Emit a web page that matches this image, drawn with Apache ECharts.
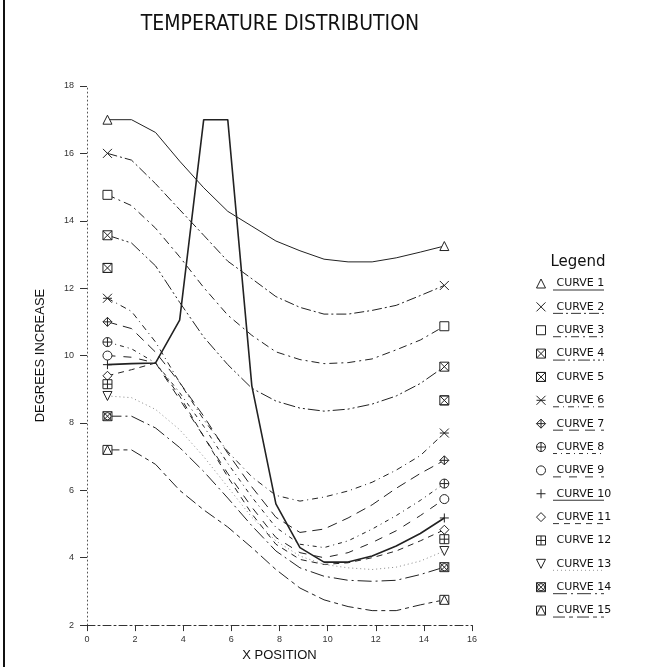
<!DOCTYPE html>
<html>
<head>
<meta charset="utf-8">
<script src="https://cdn.jsdelivr.net/npm/echarts@6/dist/echarts.min.js"></script>
<style>
  html, body { margin: 0; padding: 0; background: #fff; }
  #chart { width: 647px; height: 667px; }
</style>
</head>
<body>
<div id="chart"></div>
<script>
// x positions where the curves were sampled, and the two end positions
const xPos = [0.85, 1.85, 2.85, 3.85, 4.85, 5.85, 6.85, 7.85, 8.85, 9.85, 10.85, 11.85, 12.85, 13.85, 14.85];
const xEnds = [0.85, 14.85];

const curve1 = [17.0, 17.0, 16.62, 15.77, 14.98, 14.28, 13.84, 13.4, 13.11, 12.86, 12.78, 12.78, 12.9, 13.07, 13.25];
const curve2 = [16.0, 15.8, 15.1, 14.33, 13.57, 12.8, 12.28, 11.75, 11.43, 11.23, 11.23, 11.34, 11.49, 11.78, 12.08];
const curve3 = [14.77, 14.45, 13.78, 12.93, 12.02, 11.2, 10.6, 10.11, 9.88, 9.76, 9.79, 9.9, 10.17, 10.46, 10.87];
const curve4 = [13.57, 13.34, 12.66, 11.58, 10.55, 9.73, 9.03, 8.65, 8.44, 8.35, 8.41, 8.56, 8.8, 9.17, 9.67];
const curve5 = [12.6, 8.67];
const curve6 = [11.7, 11.31, 10.4, 9.2, 8.1, 7.15, 6.4, 5.85, 5.68, 5.8, 5.98, 6.24, 6.6, 7.03, 7.7];
const curve7 = [11.0, 10.8, 10.1, 9.2, 8.2, 7.1, 6.1, 5.2, 4.75, 4.85, 5.18, 5.57, 6.06, 6.5, 6.89];
const curve8 = [10.4, 10.2, 9.78, 8.9, 7.9, 6.8, 5.8, 4.9, 4.4, 4.3, 4.5, 4.85, 5.25, 5.7, 6.2];
const curve9 = [10.0, 9.95, 9.78, 8.7, 7.6, 6.5, 5.5, 4.6, 4.15, 4.0, 4.15, 4.45, 4.8, 5.25, 5.74];
const curve10 = [9.73, 9.76, 9.78, 11.05, 17.0, 17.0, 9.1, 5.6, 4.3, 3.87, 3.87, 4.05, 4.35, 4.72, 5.18];
const curve11 = [9.4, 9.58, 9.78, 8.8, 7.6, 6.4, 5.3, 4.4, 3.95, 3.8, 3.85, 4.0, 4.2, 4.5, 4.83];
const curve12 = [9.15, 4.55];
const curve13 = [8.8, 8.75, 8.4, 7.8, 7.0, 6.1, 5.2, 4.5, 4.05, 3.8, 3.7, 3.65, 3.72, 3.9, 4.2];
const curve14 = [8.2, 8.2, 7.85, 7.27, 6.56, 5.77, 4.95, 4.2, 3.7, 3.45, 3.33, 3.3, 3.33, 3.5, 3.72];
const curve15 = [7.2, 7.2, 6.77, 6.0, 5.42, 4.91, 4.3, 3.65, 3.1, 2.75, 2.55, 2.43, 2.43, 2.6, 2.75];

const curveNames = ['CURVE 1', 'CURVE 2', 'CURVE 3', 'CURVE 4', 'CURVE 5', 'CURVE 6', 'CURVE 7', 'CURVE 8',
  'CURVE 9', 'CURVE 10', 'CURVE 11', 'CURVE 12', 'CURVE 13', 'CURVE 14', 'CURVE 15'];
const curveValues = [curve1, curve2, curve3, curve4, curve5, curve6, curve7, curve8,
  curve9, curve10, curve11, curve12, curve13, curve14, curve15];
const xTicks = [0, 16, 2];
const yTicks = [2, 18, 2];

// plotter style marker for every curve
const symbols = [
  'triangle',
  'path://M0,0L10,10M10,0L0,10',
  'rect',
  'path://M0,0H10V10H0ZM0,0L10,10M10,0L0,10',
  'path://M0,0H10V10H0ZM0,0L10,10H0L10,0Z',
  'path://M0,0L10,10M10,0L0,10M0,5H10',
  'path://M5,0L10,5L5,10L0,5ZM5,0V10M0,5H10',
  'path://M0,5A5,5 0 1 1 10,5A5,5 0 1 1 0,5ZM5,0V10M0,5H10',
  'circle',
  'path://M5,0V10M0,5H10',
  'diamond',
  'path://M0,0H10V10H0ZM5,0V10M0,5H10',
  'path://M0,0H10L5,10Z',
  'path://M0,0H10V10H0ZM0,0L10,10M10,0L0,10M5,1A4,4 0 1 1 5,9A4,4 0 1 1 5,1Z',
  'path://M0,0H10V10H0ZM0,10L5,0L10,10'
];
// dash pattern of each curve (null = no line drawn)
const dashes = [
  'solid', [10, 3, 2, 3], [8, 4, 2, 4], [12, 3, 2, 3, 2, 3], null, [6, 4, 1, 4], [10, 6], [4, 4, 1, 4],
  [8, 8], 'solid', [6, 5], null, [1, 3], [14, 4, 2, 4], [12, 4, 4, 4]
];

var chart = echarts.init(document.getElementById('chart'));

var series = curveNames.map(function (name, i) {
  var vals = curveValues[i];
  var xs = vals.length === 2 ? xEnds : xPos;
  var last = vals.length - 1;
  return {
    name: name,
    type: 'line',
    data: vals.map(function (v, k) { return [xs[k], v]; }),
    symbol: symbols[i],
    symbolSize: function (val, p) { return (p.dataIndex === 0 || p.dataIndex === last) ? 9 : 0; },
    showAllSymbol: true,
    smooth: false,
    itemStyle: { color: '#fff', borderColor: '#222', borderWidth: 1 },
    lineStyle: {
      color: i === 12 ? '#888' : '#222',
      width: dashes[i] === null ? 0 : (i === 9 ? 1.6 : 1),
      opacity: dashes[i] === null ? 0 : 1,
      type: dashes[i] || 'solid'
    },
    emphasis: { disabled: true },
    z: i === 9 ? 5 : 2
  };
});

// underline below each legend entry in the curve's own line style
var underlines = [];
curveNames.forEach(function (n, i) {
  if (dashes[i] === null) return;
  underlines.push({
    type: 'line',
    shape: { x1: 553, y1: 290 + i * 23.36, x2: 604, y2: 290 + i * 23.36 },
    style: { stroke: i === 12 ? '#999' : '#333', lineWidth: 1, lineDash: dashes[i] === 'solid' ? null : dashes[i] }
  });
});

var option = {
  backgroundColor: '#fff',
  animation: false,
  title: [
    {
      text: 'TEMPERATURE DISTRIBUTION',
      left: 275, top: 9, textAlign: 'center',
      textStyle: { fontFamily: 'Liberation Sans Narrow, DejaVu Sans Condensed, Liberation Sans', fontSize: 21, fontWeight: 'normal', color: '#111' }
    },
    {
      text: 'Legend',
      left: 573, top: 250, textAlign: 'center',
      textStyle: { fontFamily: 'DejaVu Sans', fontSize: 15, fontWeight: 'normal', color: '#111' }
    }
  ],
  legend: {
    orient: 'vertical',
    left: 531, top: 273,
    itemWidth: 9, itemHeight: 9, itemGap: 12.36,
    data: curveNames.map(function (n, i) { return { name: n, icon: symbols[i] }; }),
    itemStyle: { color: '#fff', borderColor: '#222', borderWidth: 1 },
    textStyle: { fontFamily: 'DejaVu Sans', fontSize: 11, color: '#111', padding: [0, 0, 0, 6] },
    selectedMode: false
  },
  grid: { left: 87, right: 175, top: 86, bottom: 35, containLabel: false },
  xAxis: {
    type: 'value', min: xTicks[0], max: xTicks[1], interval: xTicks[2],
    name: 'X POSITION', nameLocation: 'middle', nameGap: 20,
    nameTextStyle: { fontFamily: 'Liberation Sans', fontSize: 13, color: '#111' },
    axisLine: { onZero: false, lineStyle: { color: '#333', width: 1, type: [8, 3, 2, 3] } },
    axisTick: { length: 6, lineStyle: { color: '#333' } },
    axisLabel: { fontFamily: 'Liberation Sans', fontSize: 9, color: '#333', margin: 10 },
    splitLine: { show: false }
  },
  yAxis: {
    type: 'value', min: yTicks[0], max: yTicks[1], interval: yTicks[2],
    name: 'DEGREES INCREASE', nameLocation: 'middle', nameGap: 40, nameRotate: 90,
    nameTextStyle: { fontFamily: 'Liberation Sans', fontSize: 13, color: '#111' },
    axisLine: { show: true, onZero: false, lineStyle: { color: '#555', width: 1, type: [1, 3] } },
    axisTick: { show: true, length: 7, lineStyle: { color: '#333' } },
    axisLabel: { fontFamily: 'Liberation Sans', fontSize: 9, color: '#333', margin: 13 },
    splitLine: { show: false }
  },
  graphic: [
    { type: 'line', shape: { x1: 4, y1: 0, x2: 4, y2: 667 }, style: { stroke: '#111', lineWidth: 2 } }
  ].concat(underlines),
  series: series
};

chart.setOption(option);
</script>
</body>
</html>
